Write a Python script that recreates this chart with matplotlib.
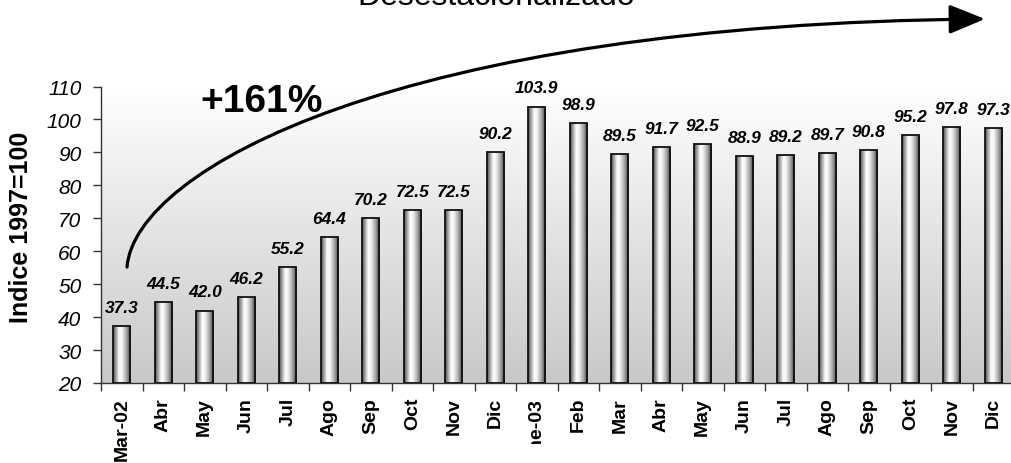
import numpy as np
import matplotlib
matplotlib.use("Agg")
import matplotlib.pyplot as plt
from matplotlib.colors import LinearSegmentedColormap
from matplotlib.patches import FancyArrowPatch
from matplotlib.path import Path
from matplotlib.transforms import Bbox

# Monthly seasonally adjusted index (1997 = 100)
months = ["Mar-02", "Abr", "May", "Jun", "Jul", "Ago", "Sep", "Oct", "Nov", "Dic",
          "Ene-03", "Feb", "Mar", "Abr", "May", "Jun", "Jul", "Ago", "Sep", "Oct",
          "Nov", "Dic"]
index_values = [37.3, 44.5, 42.0, 46.2, 55.2, 64.4, 70.2, 72.5, 72.5, 90.2,
                103.9, 98.9, 89.5, 91.7, 92.5, 88.9, 89.2, 89.7, 90.8, 95.2,
                97.8, 97.3]
y_ticks = [20, 30, 40, 50, 60, 70, 80, 90, 100, 110]

plt.rcParams["font.family"] = ["Liberation Sans", "DejaVu Sans"]

W, H = 1011, 464
fig = plt.figure(figsize=(W / 100, H / 100), dpi=100)
ax = fig.add_axes([101 / W, (H - 384) / H, 913 / W, (384 - 87.5) / H])

n = len(months)
x = np.arange(n)
ax.set_xlim(-0.5, n - 0.5)
ax.set_ylim(20, 110)

# plot-area background: white at the top fading to grey at the bottom
bg_cmap = LinearSegmentedColormap.from_list("bg", ["#c8c8c8", "#ffffff"])
grad = np.linspace(0, 1, 256).reshape(-1, 1)
ax.imshow(grad, cmap=bg_cmap, origin="lower", aspect="auto",
          extent=[0, 1, 0, 1], transform=ax.transAxes, zorder=0)

# cylinder-like shading for the bars
bar_cmap = LinearSegmentedColormap.from_list(
    "cyl", [(0.0, "#4a4a4a"), (0.15, "#9a9a9a"), (0.35, "#ffffff"),
            (0.5, "#f2f2f2"), (0.75, "#a8a8a8"), (1.0, "#3a3a3a")])
bar_w = 0.42
bars = ax.bar(x, [v - 20 for v in index_values], bottom=20, width=bar_w,
              facecolor="none", edgecolor="#111111", linewidth=1.3, zorder=3)
hgrad = np.linspace(0, 1, 128).reshape(1, -1)
for rect in bars:
    x0 = rect.get_x()
    im = ax.imshow(hgrad, cmap=bar_cmap, aspect="auto",
                   extent=[x0, x0 + rect.get_width(), 20, 20 + rect.get_height()],
                   zorder=2)
    im.set_clip_path(rect)

# value labels
for xi, v in zip(x, index_values):
    ax.annotate(f"{v:.1f}", (xi, v), xytext=(0, 8), textcoords="offset points",
                ha="center", va="bottom", fontsize=12.5, fontweight="bold",
                fontstyle="italic", annotation_clip=False, zorder=5)

# axes styling
for side in ("top", "right"):
    ax.spines[side].set_visible(False)
for side in ("left", "bottom"):
    ax.spines[side].set_color("#333333")
    ax.spines[side].set_linewidth(1.0)

ax.set_yticks(y_ticks)
ax.set_yticklabels([str(t) for t in y_ticks], fontsize=15, fontstyle="italic")
ax.tick_params(axis="y", length=6, width=1, color="#333333", pad=8)

ax.set_xticks(x)
ax.set_xticklabels(months, rotation=90, fontsize=14, fontweight="bold",
                   ha="center", va="top")
ax.set_xticks(np.arange(n + 1) - 0.5, minor=True)
ax.tick_params(axis="x", which="major", length=0, pad=10)
ax.tick_params(axis="x", which="minor", length=6, width=1, color="#333333")

# the January label is cut short at its lower end
lab = ax.get_xticklabels()[10]
lab.set_clip_box(Bbox.from_extents(0, H - 445, W, H))
lab.set_clip_on(True)

ax.set_ylabel("Indice 1997=100", fontsize=18, fontweight="bold")
ax.yaxis.set_label_coords((33 - 101) / 913, (384 - 227.5) / 296.5)

# title, running off the top edge
fig.text(496 / W, 1 - 5 / H, "Desestacionalizado", ha="center", va="baseline",
         fontsize=23)

# growth annotation
fig.text(262 / W, 1 - 102 / H, "+161%", ha="center", va="center",
         fontsize=28, fontweight="bold")


def fpt(px, py):
    return (px / W, 1 - py / H)


verts = [fpt(127, 268), fpt(135, 170), fpt(400, 25), fpt(985, 20)]
codes = [Path.MOVETO, Path.CURVE4, Path.CURVE4, Path.CURVE4]
arrow = FancyArrowPatch(path=Path(verts, codes),
                        arrowstyle="-|>,head_length=22,head_width=9",
                        color="black", linewidth=2.3, shrinkA=0, shrinkB=0,
                        transform=fig.transFigure, zorder=6)
fig.add_artist(arrow)

fig.savefig("out.png", dpi=100)
